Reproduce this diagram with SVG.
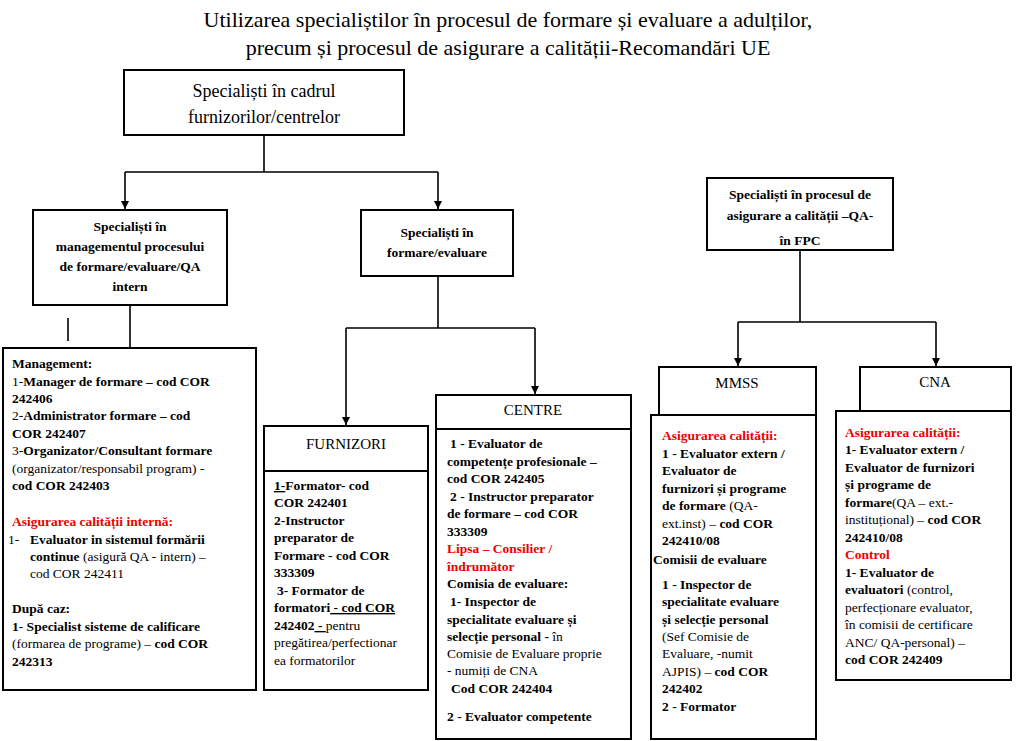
<svg xmlns="http://www.w3.org/2000/svg" width="1024" height="741" viewBox="0 0 1024 741" font-family="Liberation Serif, Times New Roman, serif">
<style>
text{font-family:"Liberation Serif","Times New Roman",serif;fill:#000}
.t{font-size:22px}
.h{font-size:18px}
.b{font-size:13.5px;font-weight:bold}
.n{font-weight:normal}
.r{fill:#e00}
.c{text-anchor:middle}
rect{fill:#fff;stroke:#000;stroke-width:2}
.ln{stroke:#000;stroke-width:1.6;fill:none}
</style>
<defs><marker id="a" markerWidth="9" markerHeight="9" refX="8" refY="4" orient="auto" markerUnits="userSpaceOnUse"><path d="M0,0 L8,4 L0,8z" fill="#000"/></marker></defs>
<text class="t c" x="508" y="27">Utilizarea specialiștilor în procesul de formare și evaluare a adulților,</text>
<text class="t c" x="508" y="55">precum și procesul de asigurare a calității-Recomandări UE</text>
<g id="top"><rect x="124" y="70" width="280" height="65"/>
<text class="h c" x="264" y="97">Specialiști în cadrul</text><text class="h c" x="264" y="123">furnizorilor/centrelor</text></g>
<g id="mgmt"><rect x="33" y="210" width="194" height="95"/>
<text class="b c" x="130" y="231">Specialiști în</text><text class="b c" x="130" y="251">managementul procesului</text><text class="b c" x="130" y="271">de formare/evaluare/QA</text><text class="b c" x="130" y="291">intern</text></g>
<g id="formare"><rect x="361" y="210" width="152" height="66"/>
<text class="b c" x="437" y="237">Specialiști în</text><text class="b c" x="437" y="257">formare/evaluare</text></g>
<g id="qa"><rect x="707" y="178" width="186" height="72"/>
<text class="b c" x="800" y="199">Specialiști în procesul de</text><text class="b c" x="800" y="220">asigurare a calității –QA-</text><text class="b c" x="800" y="245">în FPC</text></g>
<g id="management"><rect x="3" y="348" width="253" height="342"/>
<text class="b" x="12"><tspan x="12" y="368">Management:</tspan><tspan x="12" y="386"><tspan class="n">1-</tspan>Manager de formare – cod COR</tspan><tspan x="12" y="403">242406</tspan><tspan x="12" y="420"><tspan class="n">2-</tspan>Administrator formare – cod</tspan><tspan x="12" y="438">COR 242407</tspan><tspan x="12" y="455"><tspan class="n">3-</tspan>Organizator/Consultant formare</tspan><tspan x="12" y="473" class="n">(organizator/responsabil program) -</tspan><tspan x="12" y="490">cod COR 242403</tspan><tspan x="12" y="526" class="r">Asigurarea calității internă:</tspan><tspan x="8" y="544" class="n">1-</tspan><tspan x="30" y="544">Evaluator in sistemul formării</tspan><tspan x="30" y="561">continue <tspan class="n">(asigură QA - intern) –</tspan></tspan><tspan x="30" y="578" class="n">cod COR 242411</tspan><tspan x="12" y="613">După caz:</tspan><tspan x="12" y="631">1- Specialist sisteme de calificare</tspan><tspan x="12" y="648"><tspan class="n">(formarea de programe) –</tspan> cod COR</tspan><tspan x="12" y="666">242313</tspan></text></g>
<g id="furnizori"><rect x="264" y="426" width="164" height="45"/><rect x="264" y="471" width="164" height="219"/>
<text class="h c" x="346" y="449" style="font-size:15px">FURNIZORI</text>
<text class="b"><tspan x="274" y="490"><tspan text-decoration="underline">1-</tspan>Formator- cod</tspan><tspan x="274" y="507">COR 242401</tspan><tspan x="274" y="525">2-Instructor</tspan><tspan x="274" y="542">preparator de</tspan><tspan x="274" y="560">Formare - cod COR</tspan><tspan x="274" y="577">333309</tspan><tspan x="277" y="595">3- Formator de</tspan><tspan x="274" y="612">formatori<tspan text-decoration="underline"> - cod COR</tspan></tspan><tspan x="274" y="630">242402<tspan text-decoration="underline"> - </tspan><tspan class="n">pentru</tspan></tspan><tspan x="274" y="647" class="n">pregătirea/perfectionar</tspan><tspan x="274" y="665" class="n">ea formatorilor</tspan></text></g>
<g id="centre"><rect x="436" y="395" width="195" height="34"/><rect x="436" y="429" width="195" height="310"/>
<text class="h c" x="533" y="415" style="font-size:15px">CENTRE</text>
<text class="b"><tspan x="450" y="448">1 - Evaluator de</tspan><tspan x="447" y="466">competențe profesionale –</tspan><tspan x="447" y="483">cod COR 242405</tspan><tspan x="450" y="501">2 - Instructor preparator</tspan><tspan x="447" y="518">de formare – cod COR</tspan><tspan x="447" y="536">333309</tspan><tspan x="447" y="553" class="r">Lipsa – Consilier /</tspan><tspan x="447" y="571" class="r">îndrumător</tspan><tspan x="447" y="588">Comisia de evaluare:</tspan><tspan x="450" y="606">1- Inspector de</tspan><tspan x="447" y="624">specialitate evaluare și</tspan><tspan x="447" y="641">selecție personal - <tspan class="n">în</tspan></tspan><tspan x="447" y="658" class="n">Comisie de Evaluare proprie</tspan><tspan x="447" y="675" class="n">- numiți de CNA</tspan><tspan x="451" y="693">Cod COR 242404</tspan><tspan x="447" y="721">2 - Evaluator competente</tspan></text></g>
<g id="mmss"><rect x="659" y="367" width="157" height="48"/><rect x="651" y="415" width="165" height="324"/>
<text class="h c" x="737" y="388" style="font-size:15px">MMSS</text>
<text class="b"><tspan x="662" y="440" class="r">Asigurarea calității:</tspan><tspan x="662" y="458">1 - Evaluator extern /</tspan><tspan x="662" y="475">Evaluator de</tspan><tspan x="662" y="493">furnizori și programe</tspan><tspan x="662" y="510">de formare <tspan class="n">(QA-</tspan></tspan><tspan x="662" y="528"><tspan class="n">ext.inst) –</tspan> cod COR</tspan><tspan x="662" y="545">242410/08</tspan><tspan x="653" y="564">Comisii de evaluare</tspan><tspan x="662" y="589">1 - Inspector de</tspan><tspan x="662" y="606">specialitate evaluare</tspan><tspan x="662" y="624">și selecție personal</tspan><tspan x="662" y="641" class="n">(Sef Comisie de</tspan><tspan x="662" y="658" class="n">Evaluare, -numit</tspan><tspan x="662" y="676"><tspan class="n">AJPIS) –</tspan> cod COR</tspan><tspan x="662" y="693">242402</tspan><tspan x="662" y="711">2 - Formator</tspan></text></g>
<g id="cna"><rect x="860" y="367" width="151" height="44"/><rect x="836" y="411" width="175" height="269"/>
<text class="h c" x="935" y="387" style="font-size:15px">CNA</text>
<text class="b"><tspan x="845" y="437" class="r">Asigurarea calității:</tspan><tspan x="845" y="454">1- Evaluator extern /</tspan><tspan x="845" y="472">Evaluator de furnizori</tspan><tspan x="845" y="489">și programe de</tspan><tspan x="845" y="507">formare<tspan class="n">(QA – ext.-</tspan></tspan><tspan x="845" y="524"><tspan class="n">instituțional) –</tspan> cod COR</tspan><tspan x="845" y="542">242410/08</tspan><tspan x="845" y="559" class="r">Control</tspan><tspan x="845" y="577">1- Evaluator de</tspan><tspan x="845" y="594">evaluatori <tspan class="n">(control,</tspan></tspan><tspan x="845" y="612" class="n">perfecționare evaluator,</tspan><tspan x="845" y="629" class="n">în comisii de certificare</tspan><tspan x="845" y="647" class="n">ANC/ QA-personal) –</tspan><tspan x="845" y="664">cod COR 242409</tspan></text></g>
<g id="connectors">
<path class="ln" d="M264,136 V172 M125,172 H438"/>
<path class="ln" d="M125,172 V209" marker-end="url(#a)"/>
<path class="ln" d="M438,172 V209" marker-end="url(#a)"/>
<path class="ln" d="M130,306 V347 M68,318 V341"/>
<path class="ln" d="M438,277 V328 M346,328 H535"/>
<path class="ln" d="M346,328 V425" marker-end="url(#a)"/>
<path class="ln" d="M535,328 V394" marker-end="url(#a)"/>
<path class="ln" d="M800,251 V322 M738,322 H936"/>
<path class="ln" d="M738,322 V366" marker-end="url(#a)"/>
<path class="ln" d="M936,322 V366" marker-end="url(#a)"/>
</g>
</svg>
